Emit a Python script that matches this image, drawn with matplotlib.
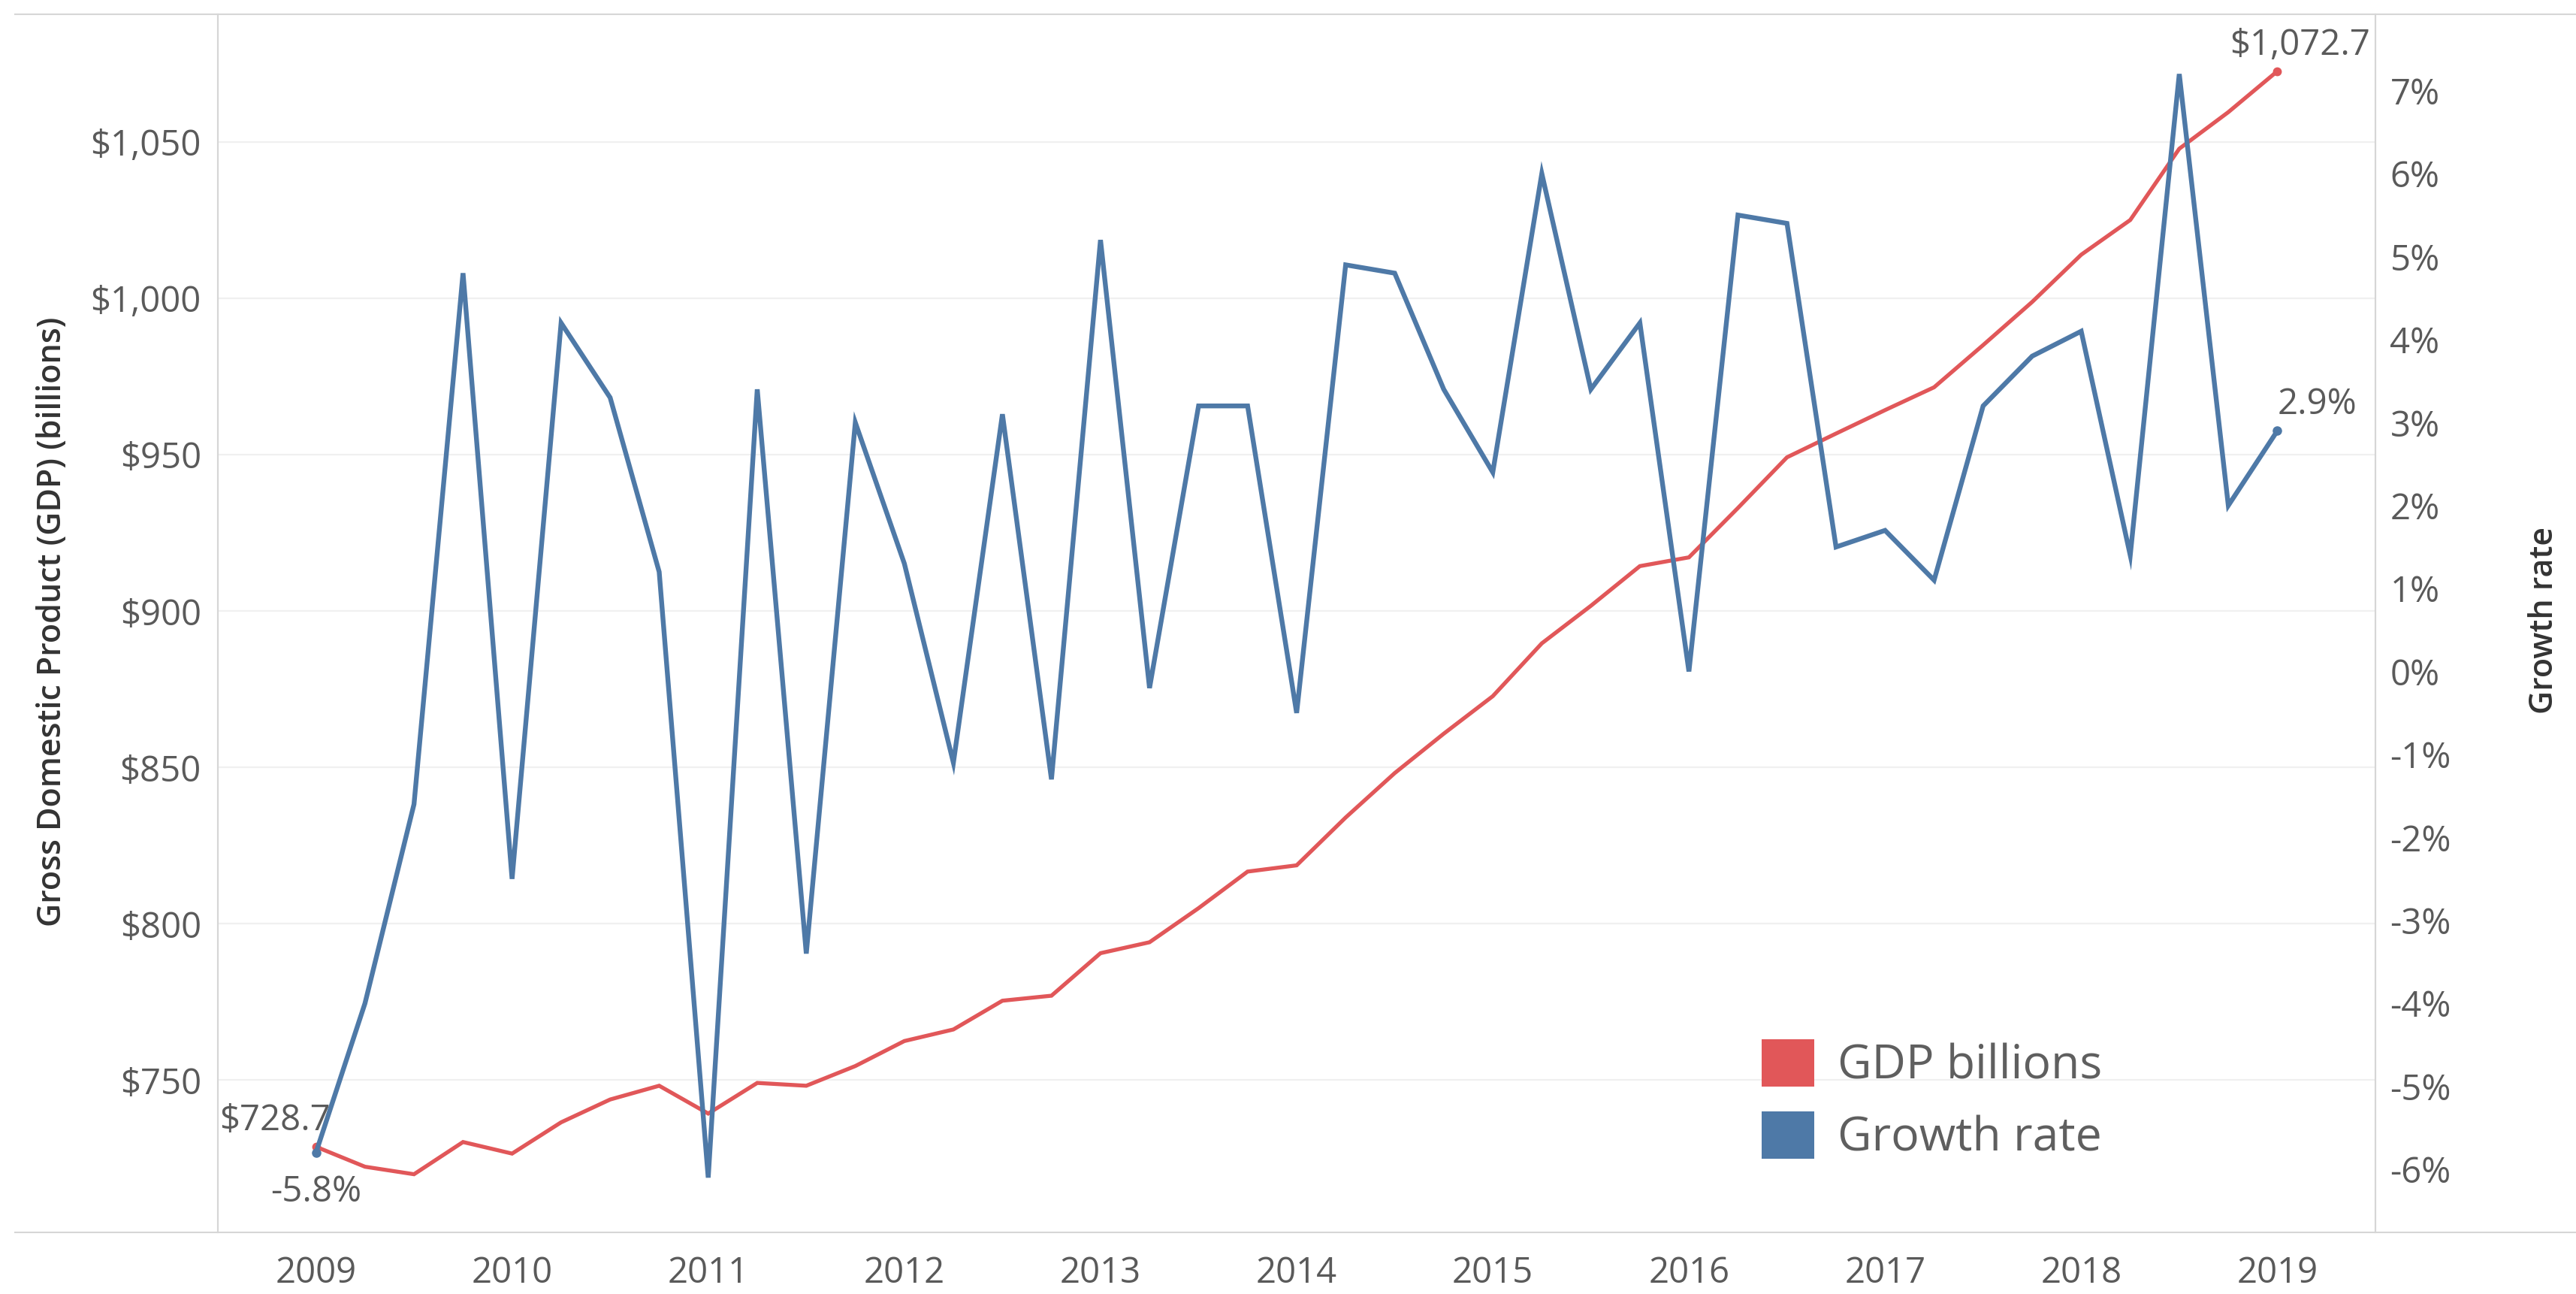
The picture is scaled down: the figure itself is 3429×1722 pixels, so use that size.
import pandas as pd
import matplotlib.pyplot as plt
from matplotlib.lines import Line2D
from matplotlib.patches import Patch
from matplotlib.ticker import FuncFormatter

plt.rcParams['font.family'] = ['Open Sans', 'DejaVu Sans']
plt.rcParams['axes.unicode_minus'] = False

# quarterly series, 2009 Q1 .. 2019 Q1
quarters = pd.period_range('2009Q1', '2019Q1', freq='Q')

gdp_billions = [728.7, 722.3, 719.9, 730.2, 726.5, 736.5, 743.8, 748.2, 739.3, 749.1,
                748.2, 754.5, 762.5, 766.2, 775.4, 777.0, 790.6, 794.1, 805.0, 816.7,
                818.7, 834.0, 848.2, 860.8, 872.8, 889.7, 901.7, 914.4, 917.2, 933.0,
                949.2, 956.8, 964.3, 971.6, 985.1, 998.9, 1014.0, 1025.1, 1047.9, 1059.6,
                1072.7]

growth_rate = [-5.8, -4.0, -1.6, 4.8, -2.5, 4.2, 3.3, 1.2, -6.1, 3.4,
               -3.4, 3.0, 1.3, -1.1, 3.1, -1.3, 5.2, -0.2, 3.2, 3.2,
               -0.5, 4.9, 4.8, 3.4, 2.4, 6.0, 3.4, 4.2, 0.0, 5.5,
               5.4, 1.5, 1.7, 1.1, 3.2, 3.8, 4.1, 1.4, 7.2, 2.0,
               2.9]

year_ticks = list(range(2009, 2020))
gdp_ticks = [750, 800, 850, 900, 950, 1000, 1050]
rate_ticks = list(range(-6, 8))

red = '#e15759'
blue = '#4e79a7'
tick_col = '#5a5a5a'
line_col = '#d6d6d6'

# decimal year for each quarter
x = [q.year + (q.quarter - 1) / 4 for q in quarters]

W, H = 3429, 1722
fig = plt.figure(figsize=(W / 100, H / 100), dpi=100)
left, right, top, bottom = 290, 3162, 19, 1640
ax = fig.add_axes([left / W, 1 - bottom / H, (right - left) / W, (bottom - top) / H])
ax2 = ax.twinx()

# GDP line (left axis)
ax.plot(x, gdp_billions, color=red, lw=3.8, solid_joinstyle='miter')
ax.plot([x[0], x[-1]], [gdp_billions[0], gdp_billions[-1]], 'o', color=red, ms=7.5)

# growth rate line (right axis)
ax2.plot(x, growth_rate, color=blue, lw=4.6, solid_joinstyle='miter')
ax2.plot([x[0], x[-1]], [growth_rate[0], growth_rate[-1]], 'o', color=blue, ms=8)

ax.set_xlim(2008.5, 2019.5)
ax.set_ylim(701.3, 1090.9)
ax2.set_ylim(-6.76, 7.92)

ax.set_xticks(year_ticks)
ax.set_xticklabels([str(y) for y in year_ticks])
ax.set_yticks(gdp_ticks)
ax.yaxis.set_major_formatter(FuncFormatter(lambda v, p: '${:,.0f}'.format(v)))
ax2.set_yticks(rate_ticks)
ax2.yaxis.set_major_formatter(FuncFormatter(lambda v, p: '{:d}%'.format(int(round(v)))))

ax.tick_params(axis='x', length=0, pad=22, labelsize=34, labelcolor=tick_col)
ax.tick_params(axis='y', length=0, pad=16, labelsize=34, labelcolor=tick_col)
ax2.tick_params(axis='y', length=0, pad=14, labelsize=34, labelcolor=tick_col)

ax.yaxis.grid(True, color='#f0f0f0', lw=1.6)
ax.set_axisbelow(True)

for a in (ax, ax2):
    a.spines['top'].set_visible(False)
    a.spines['bottom'].set_visible(False)
    a.spines['left'].set_color(line_col)
    a.spines['right'].set_color(line_col)
    a.spines['left'].set_linewidth(1.5)
    a.spines['right'].set_linewidth(1.5)

# long top and bottom rules like the dashboard frame
fig.add_artist(Line2D([20 / W, 1], [1 - top / H, 1 - top / H], color=line_col, lw=1.5))
fig.add_artist(Line2D([20 / W, 1], [1 - bottom / H, 1 - bottom / H], color=line_col, lw=1.5))

# end labels
lab = dict(fontsize=34, color=tick_col, textcoords='offset points')
ax.annotate('${:,.1f}'.format(gdp_billions[0]), (x[0], gdp_billions[0]), xytext=(14, 16),
            ha='right', va='baseline', **lab)
ax.annotate('${:,.1f}'.format(gdp_billions[-1]), (x[-1], gdp_billions[-1]), xytext=(22, 16),
            ha='center', va='baseline', **lab)
ax2.annotate('{:.1f}%'.format(growth_rate[0]), (x[0], growth_rate[0]), xytext=(0, -47),
             ha='center', va='baseline', **lab)
ax2.annotate('{:.1f}%'.format(growth_rate[-1]), (x[-1], growth_rate[-1]), xytext=(0, 16),
             ha='left', va='baseline', **lab)

# axis titles
fig.text(70 / W, 1 - 827 / H, 'Gross Domestic Product (GDP) (billions)', rotation=90,
         ha='center', va='center', fontsize=31, fontweight='semibold', color='#333333')
fig.text(3386 / W, 1 - 825 / H, 'Growth rate', rotation=90,
         ha='center', va='center', fontsize=31, fontweight='semibold', color='#333333')

# legend
handles = [Patch(facecolor=red, edgecolor='none', label='GDP billions'),
           Patch(facecolor=blue, edgecolor='none', label='Growth rate')]
leg = ax2.legend(handles=handles, loc='upper left', bbox_to_anchor=(2345 / W, 1 - 1383 / H),
                 bbox_transform=fig.transFigure, frameon=False, fontsize=45,
                 handlelength=1.12, handleheight=1.18, handletextpad=0.5,
                 labelspacing=0.45, borderpad=0, borderaxespad=0)
for t in leg.get_texts():
    t.set_color('#5f5f5f')

fig.savefig('out.png', dpi=100, facecolor='white')
